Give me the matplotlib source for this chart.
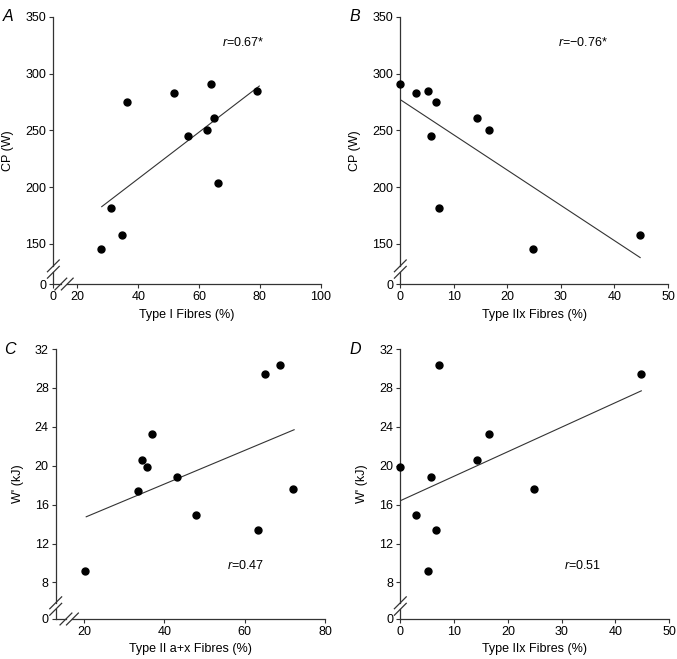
import numpy as np
import matplotlib
matplotlib.use("Agg")
import matplotlib.pyplot as plt

plt.rcParams["font.family"] = ["Liberation Sans", "DejaVu Sans"]
plt.rcParams["mathtext.fontset"] = "custom"
plt.rcParams["mathtext.rm"] = "Liberation Sans"
plt.rcParams["mathtext.it"] = "Liberation Sans:italic"

# Panel A: CP vs Type I fibres
a_x = [27.7, 31.1, 34.7, 36.2, 51.6, 56.5, 62.5, 63.8, 65.0, 66.1, 79.1]
a_y = [145.3, 181.4, 157.6, 274.9, 282.8, 244.7, 250.0, 290.8, 260.6, 203.7, 284.9]
a_fit_x = [28.0, 79.8]
a_fit_y = [182.8, 289.0]

# Panel B: CP vs Type IIx fibres
b_x = [0.0, 2.9, 5.1, 5.7, 6.7, 7.3, 14.3, 16.6, 24.8, 44.7]
b_y = [290.8, 282.8, 284.9, 244.7, 274.9, 181.4, 260.6, 250.0, 145.3, 157.6]
b_fit_x = [0.0, 44.8]
b_fit_y = [277.0, 138.0]

# Panel C: W' vs Type II a+x fibres
c_x = [20.2, 33.4, 34.5, 35.6, 37.0, 43.0, 47.8, 63.4, 65.1, 68.7, 72.0]
c_y = [9.17, 17.4, 20.6, 19.86, 23.3, 18.87, 14.9, 13.4, 29.4, 30.4, 17.56]
c_fit_x = [20.5, 72.3]
c_fit_y = [14.75, 23.7]

# Panel D: W' vs Type IIx fibres
d_x = [0.0, 2.85, 5.1, 5.7, 6.6, 7.25, 14.3, 16.5, 24.8, 44.7]
d_y = [19.83, 14.9, 9.17, 18.87, 13.4, 30.4, 20.6, 23.3, 17.56, 29.4]
d_fit_x = [0.0, 44.8]
d_fit_y = [16.4, 27.7]

cp_ticks = [0, 150, 200, 250, 300, 350]
w_ticks = [0, 8, 12, 16, 20, 24, 28, 32]

AX_COLOR = "#333333"


def broken_scale(lo, zero):
    """Linear above `lo`; [0, lo] squeezed so that 0 sits at position `zero`."""
    def fwd(v):
        v = np.asarray(v, dtype=float)
        return np.where(v >= lo, v, zero + v * (lo - zero) / lo)

    def inv(u):
        u = np.asarray(u, dtype=float)
        return np.where(u >= lo, u, (u - zero) * lo / (lo - zero))

    return fwd, inv


def draw_axes_lines(ax, ybreak=None, xbreak=None):
    """Draw the left/bottom axis lines with optional // break marks."""
    kw = dict(transform=ax.transAxes, color=AX_COLOR, lw=0.9, clip_on=False)
    g = 0.012
    d = 0.022
    if ybreak is None:
        ax.plot([0, 0], [0, 1], **kw)
    else:
        ax.plot([0, 0], [0, ybreak - g], **kw)
        ax.plot([0, 0], [ybreak + g, 1], **kw)
        for yy in (ybreak - g, ybreak + g):
            ax.plot([-d, d], [yy - d, yy + d], **kw)
    if xbreak is None:
        ax.plot([0, 1], [0, 0], **kw)
    else:
        ax.plot([0, xbreak - g], [0, 0], **kw)
        ax.plot([xbreak + g, 1], [0, 0], **kw)
        for xx in (xbreak - g, xbreak + g):
            ax.plot([xx - d, xx + d], [-d, d], **kw)


def style_panel(ax, letter, xlabel, ylabel, rtext, rpos):
    for side in ["left", "bottom", "top", "right"]:
        ax.spines[side].set_visible(False)
    ax.tick_params(direction="out", length=3, width=0.8, color=AX_COLOR,
                   labelsize=9, pad=2)
    ax.set_xlabel(xlabel, fontsize=9, labelpad=4)
    ax.set_ylabel(ylabel, fontsize=9, labelpad=8)
    ax.text(rpos[0], rpos[1], rtext, transform=ax.transAxes, fontsize=9)
    ax.text(-0.19, 1.0, letter, transform=ax.transAxes, fontsize=11.5,
            style="italic", va="center", ha="left")


def scatter_fit(ax, x, y, fx, fy):
    ax.plot(fx, fy, color=AX_COLOR, lw=0.8)
    ax.plot(x, y, "o", color="black", ms=5, clip_on=False, zorder=3)


fig = plt.figure(figsize=(6.77, 6.59), dpi=100)

# A
ax_a = fig.add_axes([0.0788, 0.569, 0.395, 0.4056])
ax_a.set_yscale("function", functions=broken_scale(135, 114.7))
ax_a.set_xscale("function", functions=broken_scale(20, 12.1))
scatter_fit(ax_a, a_x, a_y, a_fit_x, a_fit_y)
ax_a.set_xlim(0, 100)
ax_a.set_ylim(0, 350)
ax_a.set_yticks(cp_ticks)
ax_a.set_xticks([0, 20, 40, 60, 80, 100])
draw_axes_lines(ax_a, ybreak=0.056, xbreak=0.04)
style_panel(ax_a, "A", "Type I Fibres (%)", "CP (W)",
            r"$\mathit{r}$=0.67*", (0.63, 0.89))

# B
ax_b = fig.add_axes([0.5913, 0.569, 0.3954, 0.4056])
ax_b.set_yscale("function", functions=broken_scale(135, 114.7))
scatter_fit(ax_b, b_x, b_y, b_fit_x, b_fit_y)
ax_b.set_xlim(0, 50)
ax_b.set_ylim(0, 350)
ax_b.set_yticks(cp_ticks)
ax_b.set_xticks([0, 10, 20, 30, 40, 50])
draw_axes_lines(ax_b, ybreak=0.056)
style_panel(ax_b, "B", "Type IIx Fibres (%)", "CP (W)",
            r"$\mathit{r}$=" + "\u22120.76*", (0.59, 0.89))

# C
ax_c = fig.add_axes([0.0823, 0.0607, 0.3978, 0.4097])
ax_c.set_yscale("function", functions=broken_scale(7, 4.24))
scatter_fit(ax_c, c_x, c_y, c_fit_x, c_fit_y)
ax_c.set_xlim(12.9, 80)
ax_c.set_ylim(0, 32)
ax_c.set_yticks(w_ticks)
ax_c.set_xticks([20, 40, 60, 80])
draw_axes_lines(ax_c, ybreak=0.048, xbreak=0.05)
style_panel(ax_c, "C", "Type II a+x Fibres (%)", "W' (kJ)",
            r"$\mathit{r}$=0.47", (0.635, 0.185))

# D
ax_d = fig.add_axes([0.5913, 0.0607, 0.3973, 0.4097])
ax_d.set_yscale("function", functions=broken_scale(7, 4.24))
scatter_fit(ax_d, d_x, d_y, d_fit_x, d_fit_y)
ax_d.set_xlim(0, 50)
ax_d.set_ylim(0, 32)
ax_d.set_yticks(w_ticks)
ax_d.set_xticks([0, 10, 20, 30, 40, 50])
draw_axes_lines(ax_d, ybreak=0.048)
style_panel(ax_d, "D", "Type IIx Fibres (%)", "W' (kJ)",
            r"$\mathit{r}$=0.51", (0.607, 0.185))

fig.savefig("out.png", dpi=100)
